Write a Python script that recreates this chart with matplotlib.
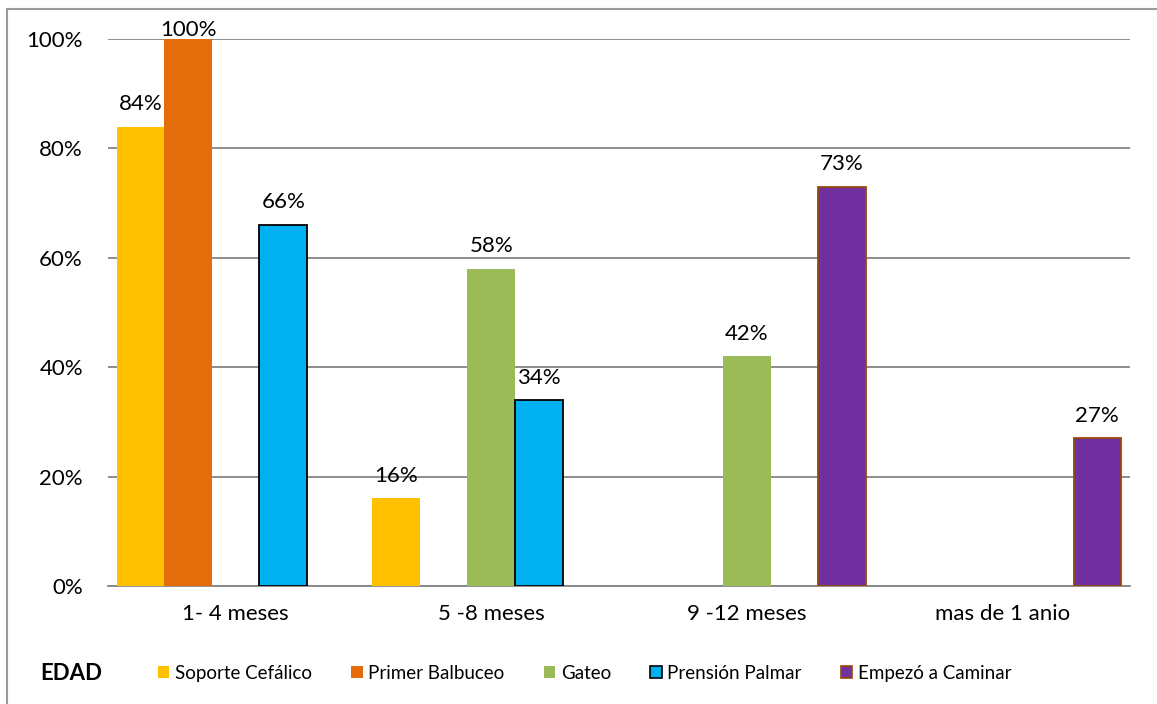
import numpy as np
import matplotlib.pyplot as plt
from matplotlib.patches import Rectangle, Patch

plt.rcParams['font.family'] = ['Lato', 'DejaVu Sans']

# Datos (porcentaje por grupo de edad)
grupos = ['1- 4 meses', '5 -8 meses', '9 -12 meses', 'mas de 1 anio']
series = ['Soporte Cefálico', 'Primer Balbuceo', 'Gateo', 'Prensión Palmar', 'Empezó a Caminar']
soporte = [84, 16, 0, 0]
balbuceo = [100, 0, 0, 0]
gateo = [0, 58, 42, 0]
prension = [66, 34, 0, 0]
caminar = [0, 0, 73, 27]

valores = [soporte, balbuceo, gateo, prension, caminar]
colores = ['#FFC000', '#E46C0A', '#9BBB59', '#00B0F0', '#7030A0']
bordes = [None, None, None, '#000000', '#984807']

fig = plt.figure(figsize=(11.57, 7.04), dpi=100)
ax = fig.add_axes([0.0933, 0.1676, 0.8834, 0.777])

x = np.arange(len(grupos))
ancho = 0.93 / 5
for i, (vals, col, bor) in enumerate(zip(valores, colores, bordes)):
    pos = x - 0.465 + ancho * (i + 0.5)
    vals = np.array(vals) / 100
    hay = vals > 0  # los ceros no se dibujan
    lw = 1.3 if bor else 0
    ax.bar(pos[hay], vals[hay], width=ancho, color=col, edgecolor=bor if bor else col,
           linewidth=lw, zorder=3)
    for p, v in zip(pos[hay], vals[hay]):
        # la etiqueta del 100% baja para no salirse del área
        dy = -1 if v >= 1 else 9
        ax.annotate(f'{v * 100:.0f}%', (p, v), xytext=(0, dy),
                    textcoords='offset points', ha='center', va='bottom',
                    fontsize=16, zorder=4)

ax.set_xlim(-0.5, len(grupos) - 0.5)
ax.set_ylim(0, 1)
ax.set_yticks(np.arange(0, 1.01, 0.2))
ax.set_yticklabels([f'{t}%' for t in range(0, 101, 20)])
ax.set_xticks(x)
ax.set_xticklabels(grupos)
ax.tick_params(axis='both', length=0, labelsize=16)
ax.tick_params(axis='y', pad=18)
ax.tick_params(axis='x', pad=13)
ax.yaxis.grid(True, color='#868686', linewidth=1.3, zorder=0)
ax.set_axisbelow(True)
for s in ['top', 'right', 'left']:
    ax.spines[s].set_visible(False)
ax.spines['bottom'].set_color('#868686')
ax.spines['bottom'].set_linewidth(1.3)

# Leyenda y etiqueta
fig.text(40 / 1157, 0.044, 'EDAD', fontsize=16, fontweight='bold', va='center', ha='left')
handles = [Patch(facecolor=c, edgecolor=b if b else c, linewidth=1.2 if b else 0)
           for c, b in zip(colores, bordes)]
fig.legend(handles, series, loc='center left', bbox_to_anchor=(158 / 1157, 0.044),
           ncol=5, frameon=False, fontsize=13.5, handlelength=0.6, handleheight=0.6,
           handletextpad=0.3, columnspacing=2.1, borderaxespad=0, borderpad=0)

# Marco del gráfico
fig.patches.append(Rectangle((7 / 1157, -0.05), 1.1, 1.05 - 9 / 704,
                             transform=fig.transFigure, fill=False,
                             edgecolor='#9a9a9a', linewidth=1.5))

fig.savefig('out.png', dpi=100)
